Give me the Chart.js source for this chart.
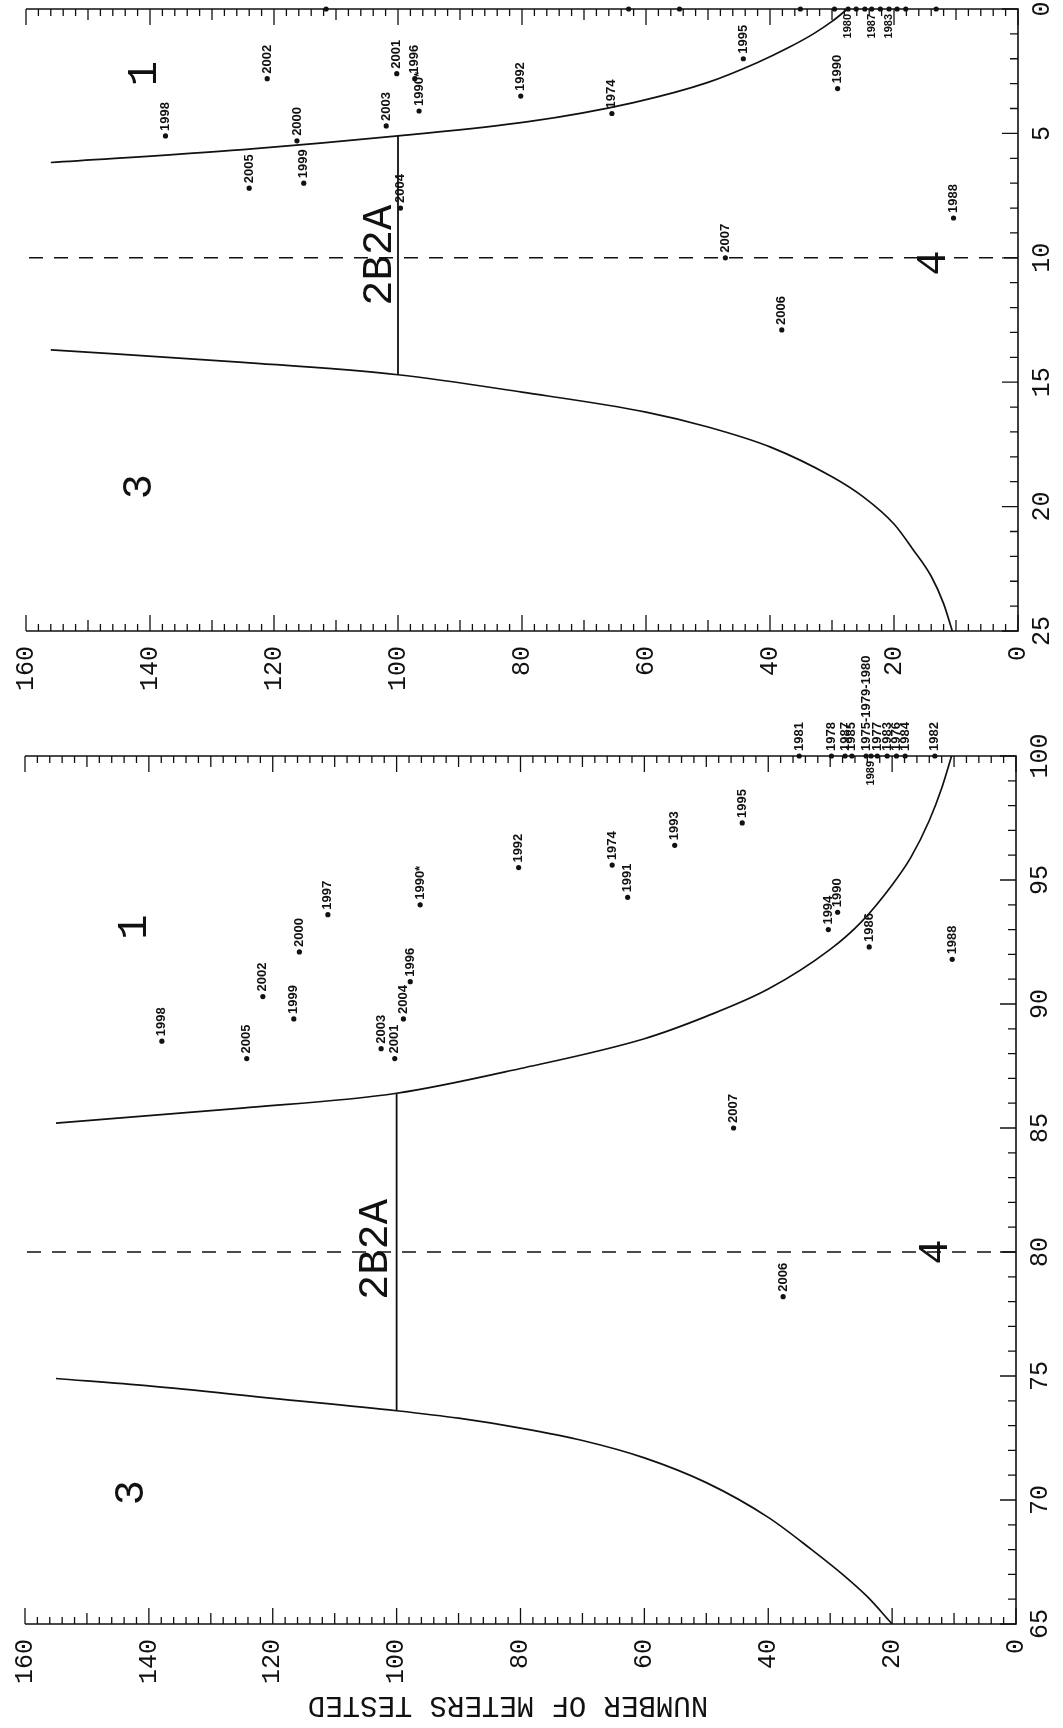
<!DOCTYPE html>
<html>
<head>
<meta charset="utf-8">
<title>Meters tested vs percent correct</title>
<script src="https://cdn.jsdelivr.net/npm/chart.js@4.4.1/dist/chart.umd.min.js"></script>
<style>
  html, body { margin: 0; padding: 0; background: #fff; }
  #wrap { position: relative; width: 1063px; height: 1728px; overflow: hidden; background: #fff; }
  #wrap canvas { position: absolute; left: 0; top: 0; }
</style>
</head>
<body>
<div id="wrap">
  <canvas id="top-chart" width="1063" height="1728"></canvas>
  <canvas id="bot-chart" width="1063" height="1728"></canvas>
</div>
<script>
/* ── Tick labels ── */
const METER_TICKS   = [160, 140, 120, 100, 80, 60, 40, 20, 0];
const TOP_PCT_TICKS = [0, 5, 10, 15, 20, 25];
const BOT_PCT_TICKS = [65, 70, 75, 80, 85, 90, 95, 100];

/* ── Lower panel: yearly results ── */
const BOT_YEARS  = ['1998', '2005', '2002', '1999', '2000', '1997', '1990*', '1996', '2004', '2003', '2001',
                    '1992', '1974', '1991', '1993', '1995', '1994', '1990', '1986', '1988', '2007', '2006'];
const BOT_METERS = [137.9, 124.2, 121.6, 116.6, 115.7, 111.1, 96.2, 97.8, 98.9, 102.5, 100.3,
                    80.3, 65.2, 62.7, 55.1, 44.2, 30.3, 28.8, 23.7, 10.3, 45.6, 37.6];
const BOT_PCT    = [88.5, 87.8, 90.3, 89.4, 92.1, 93.6, 94.0, 90.9, 89.4, 88.2, 87.8,
                    95.5, 95.6, 94.3, 96.4, 97.3, 93.0, 93.7, 92.3, 91.8, 85.0, 78.2];

/* lower panel, results sitting on the 100 % edge (labels above the edge) */
const BOT_EDGE_YEARS  = ['1981', '1978', '1987', '1985', '1975-1979-1980', '1977', '1983', '1976', '1984', '1982'];
const BOT_EDGE_METERS = [35.0, 29.8, 27.6, 26.5, 24.2, 22.4, 20.8, 19.3, 17.9, 13.1];
const BOT_EDGE_PCT    = [100, 100, 100, 100, 100, 100, 100, 100, 100, 100];
/* one more on the edge, written below it */
const BOT_EDGE_LOW_YEARS  = ['1989'];
const BOT_EDGE_LOW_METERS = [23.4];
const BOT_EDGE_LOW_PCT    = [100];

/* ── Upper panel: yearly results ── */
const TOP_YEARS  = ['1998', '2002', '2005', '1999', '2000', '2003', '2004', '2001', '1996', '1990*',
                    '1992', '1974', '1995', '1990', '1988', '2007', '2006'];
const TOP_METERS = [137.5, 121.1, 124.0, 115.2, 116.3, 101.9, 99.6, 100.2, 97.3, 96.6,
                    80.2, 65.5, 44.3, 29.1, 10.4, 47.2, 38.1];
const TOP_PCT    = [5.1, 2.8, 7.2, 7.0, 5.3, 4.7, 8.0, 2.6, 2.8, 4.1,
                    3.5, 4.2, 2.0, 3.2, 8.4, 10.0, 12.9];

/* upper panel, results on the 0 % edge (most labels run off the sheet) */
const TOP_EDGE_YEARS  = ['', '', '', '', '', '1980', '', '', '1987', '', '1983', '', '', ''];
const TOP_EDGE_METERS = [111.6, 62.8, 54.6, 35.1, 29.6, 27.4, 26.1, 24.7, 23.6, 22.2, 20.8, 19.5, 18.1, 13.2];
const TOP_EDGE_PCT    = [0, 0, 0, 0, 0, 0, 0, 0, 0, 0, 0, 0, 0, 0];

/* ── Acceptance curves ── */
const BOT_LOW_M  = [20, 24, 28, 33, 40, 50, 60, 70, 80, 90, 100, 120, 140, 155];
const BOT_LOW_P  = [65.0, 66.1, 67.0, 68.0, 69.3, 70.7, 71.7, 72.4, 72.9, 73.3, 73.6, 74.1, 74.6, 74.9];
const BOT_HIGH_M = [10.4, 12, 14, 17, 20, 25, 30, 40, 50, 60, 80, 100, 125, 155];
const BOT_HIGH_P = [100, 98.7, 97.4, 95.9, 94.8, 93.3, 92.2, 90.6, 89.5, 88.6, 87.4, 86.4, 85.8, 85.2];

const TOP_LOW_M  = [27.5, 30, 33, 37, 42, 50, 62, 79, 100, 125, 156];
const TOP_LOW_P  = [0, 0.5, 1.0, 1.55, 2.15, 2.95, 3.76, 4.53, 5.1, 5.65, 6.17];
const TOP_HIGH_M = [10.6, 12, 14, 17, 20, 25, 30, 40, 50, 60, 80, 100, 125, 156];
const TOP_HIGH_P = [25.0, 23.9, 22.8, 21.7, 20.7, 19.6, 18.8, 17.6, 16.8, 16.2, 15.4, 14.7, 14.2, 13.7];

/* 2B2A divider at 100 meters, and the dashed limit */
const BOT_DIVIDER_P = [73.6, 86.4];
const TOP_DIVIDER_P = [5.1, 14.7];
const BOT_LIMIT = 80;
const TOP_LIMIT = 10;

const INK = '#111';

function toPoints(xs, ys) {
  return xs.map(function(v, i) { return { x: v, y: ys[i] }; });
}

// ── Frame, inward ticks, rotated labels ──
const framePlugin = {
  id: 'frame',
  beforeDatasetsDraw: function(chart, args, o) {
    var ctx = chart.ctx, a = chart.chartArea;
    var xs = chart.scales.x, ys = chart.scales.y;
    ctx.save();
    ctx.strokeStyle = INK;
    ctx.lineWidth = 1.6;
    ctx.beginPath();
    ctx.moveTo(a.left, a.top);
    ctx.lineTo(a.right, a.top);
    ctx.lineTo(a.right, a.bottom);
    ctx.lineTo(a.left, a.bottom);
    ctx.stroke();

    ctx.lineWidth = 1.3;
    ctx.beginPath();
    for (var m = 0; m <= 160; m += 2) {
      var px = xs.getPixelForValue(m);
      var len = m % 20 === 0 ? 16 : (m % 10 === 0 ? 11 : 7);
      ctx.moveTo(px, a.top);
      ctx.lineTo(px, a.top + len);
      ctx.moveTo(px, a.bottom);
      ctx.lineTo(px, a.bottom - len);
    }
    for (var p = o.pMin; p <= o.pMax; p++) {
      var py = ys.getPixelForValue(p);
      var plen = p % 5 === 0 ? 16 : 8;
      ctx.moveTo(a.right, py);
      ctx.lineTo(a.right - plen, py);
    }
    ctx.stroke();
    ctx.restore();
  },
  afterDraw: function(chart, args, o) {
    var ctx = chart.ctx, a = chart.chartArea;
    var xs = chart.scales.x, ys = chart.scales.y;
    ctx.save();
    ctx.fillStyle = INK;

    // meters tick labels, read bottom-to-top
    ctx.font = '25px "Liberation Mono", monospace';
    ctx.textAlign = 'right';
    ctx.textBaseline = 'middle';
    METER_TICKS.forEach(function(m) {
      ctx.save();
      ctx.translate(xs.getPixelForValue(m), a.bottom + 15);
      ctx.rotate(-Math.PI / 2);
      ctx.fillText(String(m), 0, 0);
      ctx.restore();
    });

    // percent tick labels on the right
    ctx.textAlign = 'center';
    o.pctTicks.forEach(function(p) {
      ctx.save();
      ctx.translate(a.right + 24, ys.getPixelForValue(p));
      ctx.rotate(-Math.PI / 2);
      ctx.fillText(String(p), 0, 0);
      ctx.restore();
    });

    // region marks
    ctx.font = '42px "Liberation Mono", monospace';
    o.marks.forEach(function(mk) {
      ctx.save();
      ctx.translate(xs.getPixelForValue(mk.m), ys.getPixelForValue(mk.p));
      ctx.rotate(-Math.PI / 2);
      ctx.fillText(mk.text, 0, 0);
      ctx.restore();
    });

    // year labels next to each dot
    chart.data.datasets.forEach(function(ds, i) {
      if (!ds.yearLabels) return;
      var below = ds.labelSide === 'below';
      ctx.font = below ? 'bold 11px "Liberation Sans", sans-serif' : 'bold 13px "Liberation Sans", sans-serif';
      ctx.textAlign = below ? 'right' : 'left';
      var meta = chart.getDatasetMeta(i);
      meta.data.forEach(function(el, j) {
        var txt = ds.yearLabels[j];
        if (!txt) return;
        ctx.save();
        ctx.translate(el.x, below ? el.y + 5 : el.y - 5);
        ctx.rotate(-Math.PI / 2);
        ctx.fillText(txt, 0, 0);
        ctx.restore();
      });
    });

    if (o.title) {
      ctx.font = '29px "Liberation Mono", monospace';
      ctx.textAlign = 'center';
      ctx.save();
      ctx.translate(o.title.x, o.title.y);
      ctx.rotate(Math.PI);
      ctx.fillText(o.title.text, 0, 0);
      ctx.restore();
    }
    ctx.restore();
  },
};

function curve(xs, ys) {
  return {
    data: toPoints(xs, ys),
    showLine: true,
    borderColor: INK,
    borderWidth: 1.7,
    pointRadius: 0,
    cubicInterpolationMode: 'monotone',
    clip: false,
  };
}

function dots(xs, ys, labels, side) {
  return {
    data: toPoints(xs, ys),
    yearLabels: labels,
    labelSide: side || 'above',
    showLine: false,
    pointRadius: 2.6,
    pointBackgroundColor: INK,
    pointBorderWidth: 0,
    clip: false,
  };
}

function straight(points, dashed) {
  return {
    data: points,
    showLine: true,
    borderColor: INK,
    borderWidth: dashed ? 1.6 : 1.8,
    borderDash: dashed ? [14, 11] : [],
    pointRadius: 0,
    clip: false,
  };
}

function buildPanel(id, cfg) {
  return new Chart(document.getElementById(id), {
    type: 'scatter',
    data: { datasets: cfg.datasets },
    options: {
      responsive: false,
      animation: false,
      devicePixelRatio: 1,
      events: [],
      layout: { padding: cfg.padding },
      plugins: {
        legend: { display: false },
        tooltip: { enabled: false },
        frame: cfg.frame,
      },
      scales: {
        x: { type: 'linear', min: 0, max: 160, reverse: true, display: false },
        y: { type: 'linear', min: cfg.pMin, max: cfg.pMax, reverse: cfg.reverseY, display: false },
      },
    },
    plugins: [framePlugin],
  });
}

// ── Upper panel ──
buildPanel('top-chart', {
  pMin: 0, pMax: 25, reverseY: true,
  padding: { left: 26, right: 45, top: 9, bottom: 1097 },
  datasets: [
    straight([{ x: 0, y: TOP_LIMIT }, { x: 160, y: TOP_LIMIT }], true),
    straight([{ x: 100, y: TOP_DIVIDER_P[0] }, { x: 100, y: TOP_DIVIDER_P[1] }], false),
    curve(TOP_LOW_M, TOP_LOW_P),
    curve(TOP_HIGH_M, TOP_HIGH_P),
    dots(TOP_METERS, TOP_PCT, TOP_YEARS),
    dots(TOP_EDGE_METERS, TOP_EDGE_PCT, TOP_EDGE_YEARS, 'below'),
  ],
  frame: {
    pMin: 0, pMax: 25,
    pctTicks: TOP_PCT_TICKS,
    marks: [
      { text: '1', m: 140.8, p: 2.6 },
      { text: '3', m: 141.7, p: 19.2 },
      { text: '4', m: 13.5, p: 10.2 },
      { text: '2B2A', m: 102.9, p: 9.9 },
    ],
  },
});

// ── Lower panel ──
buildPanel('bot-chart', {
  pMin: 65, pMax: 100, reverseY: false,
  padding: { left: 25, right: 47, top: 756, bottom: 104 },
  datasets: [
    straight([{ x: 0, y: BOT_LIMIT }, { x: 160, y: BOT_LIMIT }], true),
    straight([{ x: 100, y: BOT_DIVIDER_P[0] }, { x: 100, y: BOT_DIVIDER_P[1] }], false),
    curve(BOT_LOW_M, BOT_LOW_P),
    curve(BOT_HIGH_M, BOT_HIGH_P),
    dots(BOT_METERS, BOT_PCT, BOT_YEARS),
    dots(BOT_EDGE_METERS, BOT_EDGE_PCT, BOT_EDGE_YEARS),
    dots(BOT_EDGE_LOW_METERS, BOT_EDGE_LOW_PCT, BOT_EDGE_LOW_YEARS, 'below'),
  ],
  frame: {
    pMin: 65, pMax: 100,
    pctTicks: BOT_PCT_TICKS,
    marks: [
      { text: '1', m: 142.2, p: 93.1 },
      { text: '3', m: 142.7, p: 70.3 },
      { text: '4', m: 13.0, p: 80.0 },
      { text: '2B2A', m: 103.3, p: 80.1 },
    ],
    title: { text: 'NUMBER OF METERS TESTED', x: 508, y: 1705 },
  },
});
</script>
</body>
</html>
